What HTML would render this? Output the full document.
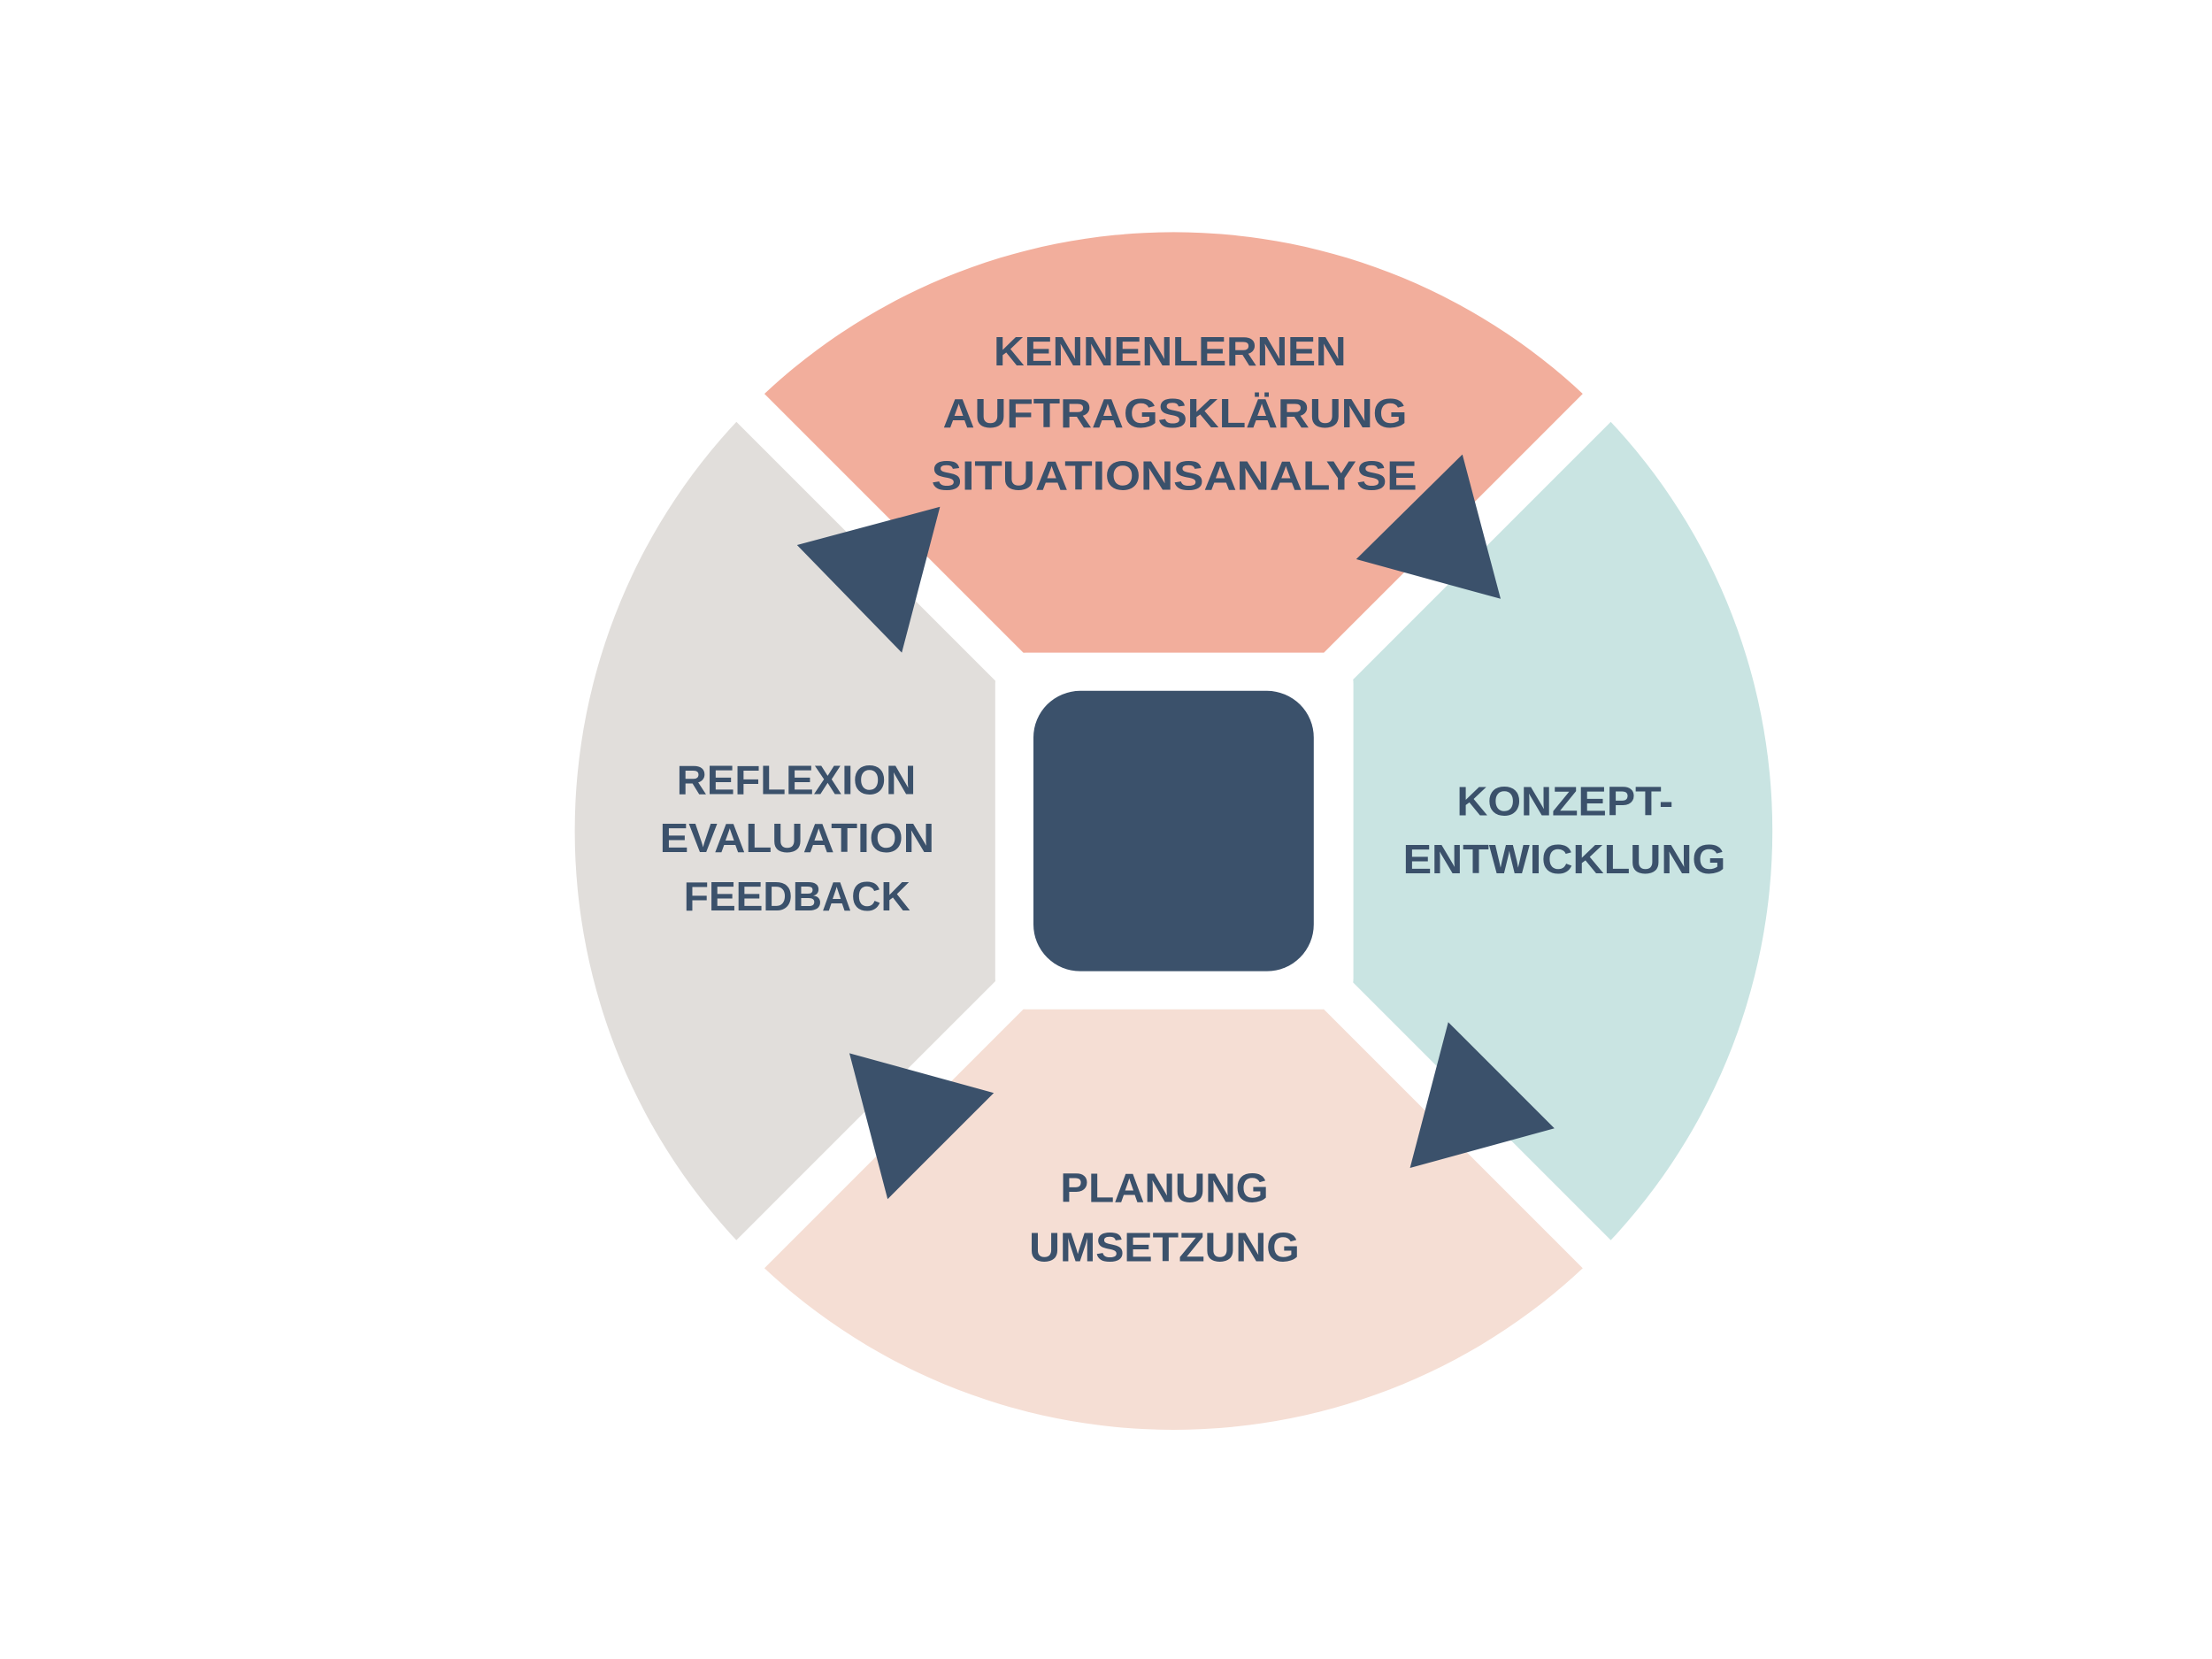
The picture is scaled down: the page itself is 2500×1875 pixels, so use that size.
<!DOCTYPE html>
<html><head><meta charset="utf-8"><style>
html,body{margin:0;padding:0;background:#fff;}
svg{display:block}
text{font-family:"Liberation Sans",sans-serif;font-weight:bold;fill:#3B516B;font-size:29px;}
</style></head><body>
<svg width="2500" height="1875" viewBox="0 0 1562.5 1171.875" xmlns="http://www.w3.org/2000/svg">
<rect width="1562.5" height="1171.875" fill="#fff"/>
<path d="M829 587 L529.9 287.9 A423 423 0 0 1 1128.1 287.9 Z" fill="#F2AE9C"/>
<path d="M829 587 L1128.1 287.9 A423 423 0 0 1 1128.1 886.1 Z" fill="#C9E4E2"/>
<path d="M829 587 L1128.1 886.1 A423 423 0 0 1 529.9 886.1 Z" fill="#F5DED4"/>
<path d="M829 587 L529.9 886.1 A423 423 0 0 1 529.9 287.9 Z" fill="#E1DEDB"/>
<line x1="379" y1="137" x2="1279" y2="1037" stroke="#fff" stroke-width="28"/>
<line x1="1279" y1="137" x2="379" y2="1037" stroke="#fff" stroke-width="28"/>
<rect x="703" y="461" width="253" height="252" rx="22" fill="#fff"/>
<rect x="730" y="488" width="198" height="198" rx="33" fill="#3B516B"/>
<polygon points="563,385 664,358 637,461" fill="#3B516B"/>
<polygon points="1033,321 1060,423 958,395" fill="#3B516B"/>
<polygon points="1023,722 1098,797 996,825" fill="#3B516B"/>
<polygon points="600,744 702,772 627,847" fill="#3B516B"/>
<text x="702" y="258" textLength="249" lengthAdjust="spacingAndGlyphs">KENNENLERNEN</text>
<text x="666" y="302" textLength="328" lengthAdjust="spacingAndGlyphs">AUFTRAGSKLÄRUNG</text>
<text x="658" y="346" textLength="343" lengthAdjust="spacingAndGlyphs">SITUATIONSANALYSE</text>
<text x="478" y="561" textLength="169" lengthAdjust="spacingAndGlyphs">REFLEXION</text>
<text x="466" y="602" textLength="194" lengthAdjust="spacingAndGlyphs">EVALUATION</text>
<text x="483" y="643" textLength="160" lengthAdjust="spacingAndGlyphs">FEEDBACK</text>
<text x="1029" y="576" textLength="153" lengthAdjust="spacingAndGlyphs">KONZEPT-</text>
<text x="991" y="617" textLength="228" lengthAdjust="spacingAndGlyphs">ENTWICKLUNG</text>
<text x="749" y="849" textLength="147" lengthAdjust="spacingAndGlyphs">PLANUNG</text>
<text x="727" y="891" textLength="191" lengthAdjust="spacingAndGlyphs">UMSETZUNG</text>
</svg>
</body></html>
